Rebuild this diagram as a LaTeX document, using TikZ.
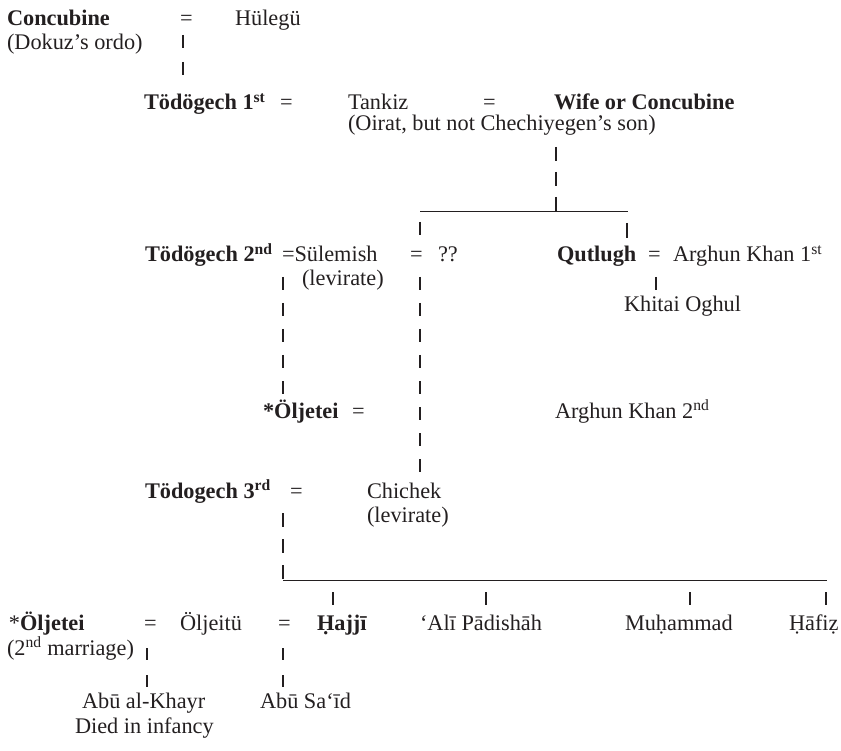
\documentclass[tikz,border=0pt]{standalone}
\usepackage{fontspec}
\setmainfont{Liberation Serif}
\definecolor{ink}{HTML}{231F20}
\begin{document}
\begin{tikzpicture}[x=1pt,y=-1pt,
  kin/.style={inner sep=0pt, outer sep=0pt, anchor=base west, text=ink,
    font=\fontsize{22.3}{24}\selectfont},
  kinb/.style={kin, font=\fontsize{22.3}{24}\selectfont\bfseries},
  vbar/.style={draw=ink, line width=1.1pt},
  vbars/.style={vbar, dash pattern=on 13pt off 13pt},
  hline/.style={draw=ink, line width=1pt}]
\useasboundingbox (0,0) rectangle (841,751);

% --- Hulegu and his concubine
\node[kinb] (conc) at (7,26) {Concubine};
\node[kin] (eqA) at (180,26) {=};
\node[kin] (hul) at (235,26) {Hülegü};
\node[kin] (dok) at (7,50) {(Dokuz’s ordo)};

% --- first generation
\node[kinb] (tod1) at (144,110) {Tödögech 1\textsuperscript{st}};
\node[kin] (eqB) at (280,110) {=};
\node[kin] (tank) at (348,110) {Tankiz};
\node[kin] (eqC) at (483,110) {=};
\node[kinb] (wife) at (554,110) {Wife or Concubine};
\node[kin] (oir) at (348,131) {(Oirat, but not Chechiyegen’s son)};

% --- second generation
\node[kinb] (tod2) at (145,262) {Tödögech 2\textsuperscript{nd}};
\node[kin] (sul) at (282,262) {=Sülemish};
\node[kin] (eqD) at (410,262) {=};
\node[kin] (unk) at (438,262) {??};
\node[kinb] (qut) at (557,262) {Qutlugh};
\node[kin] (eqE) at (648,262) {=};
\node[kin] (arg1) at (673,262) {Arghun Khan 1\textsuperscript{st}};
\node[kin] (lev1) at (302,286) {(levirate)};
\node[kin] (khit) at (624,312) {Khitai Oghul};

\node[kinb] (olj1) at (263,418) {*Öljetei};
\node[kin] (eqF) at (352,418) {=};
\node[kin] (arg2) at (555,418) {Arghun Khan 2\textsuperscript{nd}};

\node[kinb] (tod3) at (145,498) {Tödogech 3\textsuperscript{rd}};
\node[kin] (eqG) at (290,498) {=};
\node[kin] (chi) at (367,498) {Chichek};
\node[kin] (lev2) at (367,522) {(levirate)};

% --- third generation
\node[kin] (olj2) at (9,630) {*\textbf{Öljetei}};
\node[kin] (eqH) at (144,630) {=};
\node[kin] (oljt) at (180,630) {Öljeitü};
\node[kin] (eqI) at (278,630) {=};
\node[kinb] (haj) at (317,630) {Ḥajjī};
\node[kin] (ali) at (420,630) {‘Alī Pādishāh};
\node[kin] (muh) at (625,630) {Muḥammad};
\node[kin] (haf) at (789,630) {Ḥāfiẓ};
\node[kin] (mar) at (7,655) {(2\textsuperscript{nd} marriage)};
\node[kin] (abk) at (82,708) {Abū al-Khayr};
\node[kin] (abs) at (260,708) {Abū Sa‘īd};
\node[kin] (died) at (75,733) {Died in infancy};

% --- end points of the connectors
\coordinate (a1) at (183,35);  \coordinate (a2) at (183,75);
\coordinate (b1) at (556,147); \coordinate (b2) at (556,212);
\coordinate (l1) at (420,212); \coordinate (l2) at (628,212);
\coordinate (c0) at (420,222); \coordinate (c00) at (420,235);
\coordinate (c1) at (420,277); \coordinate (c2) at (420,472);
\coordinate (d1) at (283,277); \coordinate (d2) at (283,394);
\coordinate (e1) at (627,223); \coordinate (e2) at (627,238);
\coordinate (f1) at (656,277); \coordinate (f2) at (656,290);
\coordinate (g1) at (283,513); \coordinate (g2) at (283,580);
\coordinate (m2) at (827,580);
\coordinate (h1) at (147,648); \coordinate (h2) at (147,687);
\coordinate (i1) at (283,648); \coordinate (i2) at (283,687);
\foreach \k/\xx in {1/333,2/486,3/690,4/826}{
  \coordinate (k\k t) at (\xx,592); \coordinate (k\k b) at (\xx,605);}

% --- connectors
\draw[vbar, dash pattern=on 13pt off 14pt] (a1) -- (a2);
\draw[vbar, dash pattern=on 14pt off 11pt] (b1) -- (b2);
\draw[hline] (l1) -- (l2);
\draw[vbar] (c0) -- (c00);
\draw[vbar] (e1) -- (e2);
\draw[vbars] (c1) -- (c2);
\draw[vbars] (d1) -- (d2);
\draw[vbar] (f1) -- (f2);
\draw[vbar, dash pattern=on 14pt off 12pt] (g1) -- (g2);
\draw[hline] (g2) -- (m2);
\foreach \k in {1,2,3,4}{\draw[vbar] (k\k t) -- (k\k b);}
\draw[vbar, dash pattern=on 12pt off 15pt] (h1) -- (h2);
\draw[vbar, dash pattern=on 12pt off 15pt] (i1) -- (i2);
\end{tikzpicture}
\end{document}
